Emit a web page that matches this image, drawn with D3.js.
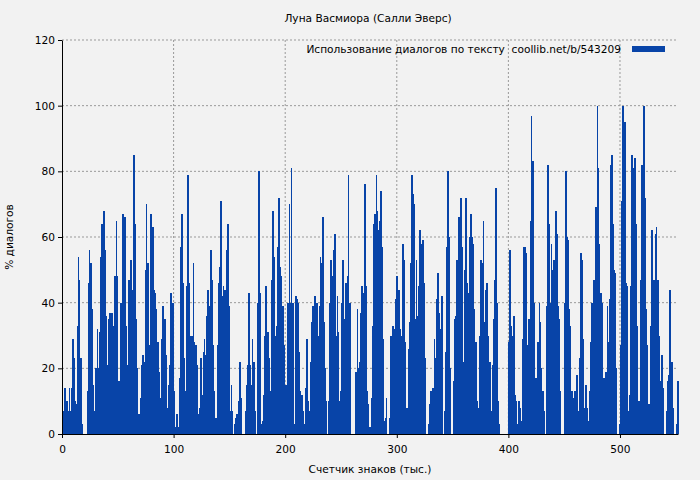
<!DOCTYPE html>
<html><head><meta charset="utf-8">
<script src="https://cdn.jsdelivr.net/npm/d3@7"></script>
<style>body{margin:0;background:#f2f2f2}svg{display:block}text{font-family:"DejaVu Sans",sans-serif;font-size:10.6px;fill:#000}</style>
</head><body><svg id="c" width="700" height="480"></svg>
<script>
const title = "Луна Васмиора (Салли Эверс)";
const xLabel = "Счетчик знаков (тыс.)";
const yLabel = "% диалогов";
const legendLabel = "Использование диалогов по тексту  coollib.net/b/543209";
const xTicks = [0,100,200,300,400,500];
const yTicks = [0,20,40,60,80,100,120];
const values = [
7,7,14,10,10,7,14,7,14,29,23,10,9,33,54,47,23,3,0,0,0,0,13,46,56,52,38,15,2,7,20,32,20,31,54,64,43,68,56,36,21,35,37,25,37,32,
33,48,65,48,16,8,40,36,67,65,66,33,21,47,28,53,44,32,85,64,35,20,6,6,11,21,24,22,50,70,52,17,27,67,48,63,44,43,38,28,19,1,11,29,39,35,
35,24,8,15,21,43,28,40,13,2,6,2,0,17,57,67,46,23,13,45,79,46,30,12,30,52,28,27,21,6,0,8,23,12,25,29,24,36,44,39,38,56,47,27,13,5,
4,27,46,51,71,42,45,44,40,56,64,39,7,15,7,0,3,5,6,3,10,22,11,0,0,0,7,15,21,43,21,15,29,22,7,0,0,40,80,43,3,4,12,30,45,31,
31,23,13,47,68,54,30,16,33,57,72,51,48,39,27,15,2,15,40,70,40,81,40,3,0,42,41,40,25,13,12,7,3,0,14,29,10,7,22,34,39,35,42,35,40,30,
39,54,52,66,34,20,10,0,10,40,53,38,48,56,61,30,42,31,10,13,40,53,35,29,46,48,79,40,0,0,0,0,0,19,38,20,22,37,45,42,43,76,45,13,9,2,
2,11,33,64,67,79,68,62,65,74,57,29,4,5,11,0,0,5,30,17,33,32,41,48,48,44,32,26,30,58,53,28,8,8,26,34,52,79,73,70,35,53,36,45,62,58,
55,59,46,23,0,0,3,9,13,4,14,29,23,41,49,37,12,32,42,0,7,25,57,80,60,20,0,0,16,35,36,53,47,66,63,72,57,22,50,72,46,43,41,60,67,60,
58,38,28,10,0,8,30,53,52,65,34,44,46,30,19,22,7,21,35,47,75,40,10,3,0,0,0,0,0,0,0,0,28,56,33,30,36,12,10,3,0,10,8,4,29,57,
57,55,27,12,35,65,97,83,40,8,17,10,28,40,34,20,13,7,0,0,39,82,64,40,58,50,53,39,68,61,39,35,13,0,0,0,40,80,60,59,38,33,13,7,11,13,
13,18,7,23,55,53,29,3,8,15,8,4,13,28,40,20,47,40,69,100,81,58,43,40,17,4,17,19,39,28,41,82,85,64,50,49,20,0,0,3,27,71,100,87,95,46,
45,7,12,45,85,81,64,84,64,33,10,2,47,82,52,100,72,38,27,9,7,33,62,33,47,61,63,47,30,14,16,24,14,0,0,7,16,18,44,18,22,8,0,0,3,16
];
const svg = d3.select("#c");
const m = {l:62, r:678, t:40, b:434};
const x = d3.scaleLinear().domain([0, values.length]).range([m.l, m.r]);
const y = d3.scaleLinear().domain([0,120]).range([m.b, m.t]);
const g = svg.append("g");
g.selectAll(".gx").data(xTicks.filter(d=>d>0)).enter().append("line")
 .attr("x1",d=>x(d)).attr("x2",d=>x(d)).attr("y1",m.t).attr("y2",m.b)
 .attr("stroke","#999").attr("stroke-dasharray","2,2");
g.selectAll(".gy").data(yTicks.filter(d=>d>0)).enter().append("line")
 .attr("x1",m.l).attr("x2",m.r).attr("y1",d=>y(d)).attr("y2",d=>y(d))
 .attr("stroke","#999").attr("stroke-dasharray","2,2");
const bars = g.append("g").attr("shape-rendering","crispEdges");
bars.selectAll(".bar").data(values).enter().append("rect")
 .attr("x",(d,i)=>x(i)).attr("width",x(1)-x(0)+0.6)
 .attr("y",d=>y(d)).attr("height",d=>y(0)-y(d)).attr("fill","#0844a8");
const xa = svg.append("g").attr("transform",`translate(0,${m.b})`)
 .call(d3.axisBottom(x).tickValues(xTicks).tickSize(4).tickSizeOuter(0));
const ya = svg.append("g").attr("transform",`translate(${m.l},0)`)
 .call(d3.axisLeft(y).tickValues(yTicks).tickSize(4).tickSizeOuter(0));
[xa,ya].forEach(a=>{a.selectAll("text").style("font-family","DejaVu Sans").style("font-size","10.6px");a.select(".domain").attr("stroke","#000");});
xa.selectAll("text").attr("dy","1.1em");
svg.append("text").attr("x",368).attr("y",22).attr("text-anchor","middle").text(title);
svg.append("text").attr("x",370).attr("y",473).attr("text-anchor","middle").text(xLabel);
svg.append("text").attr("transform","translate(13,237) rotate(-90)").attr("text-anchor","middle").text(yLabel);
svg.append("text").attr("x",621).attr("y",53).attr("text-anchor","end").attr("xml:space","preserve").style("white-space","pre").text(legendLabel);
svg.append("rect").attr("x",632).attr("y",46).attr("width",33).attr("height",6).attr("fill","#0844a8");
</script></body></html>
